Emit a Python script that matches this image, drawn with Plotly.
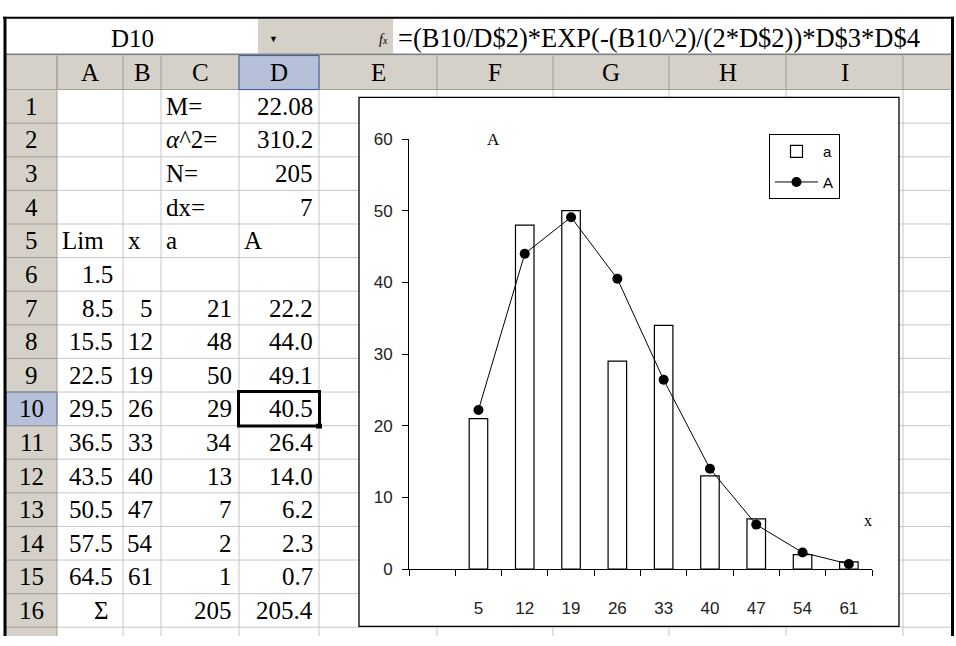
import plotly.graph_objects as go

W, H = 956, 646

# ---------------- data ----------------
lim = [1.5, 8.5, 15.5, 22.5, 29.5, 36.5, 43.5, 50.5, 57.5, 64.5]
x_vals = [5, 12, 19, 26, 33, 40, 47, 54, 61]
a_vals = [21, 48, 50, 29, 34, 13, 7, 2, 1]
A_vals = [22.2, 44.0, 49.1, 40.5, 26.4, 14.0, 6.2, 2.3, 0.7]
param_names = ["M=", "α^2=", "N=", "dx="]
param_values = ["22.08", "310.2", "205", "7"]
table_headers = ["Lim", "x", "a", "A"]
sum_label = "Σ"
sum_a = "205"
sum_A = "205.4"
dx = 7
column_letters = ["A", "B", "C", "D", "E", "F", "G", "H", "I"]
y_ticks = [0, 10, 20, 30, 40, 50, 60]
formula_text = "=(B10/D$2)*EXP(-(B10^2)/(2*D$2))*D$3*D$4"
cell_name = "D10"
series_names = ["a", "A"]
chart_title = "A"
x_axis_label = "x"

# ---------------- layout helpers ----------------
def X(p):
    return p / W


def Y(p):
    return 1 - p / H


COL = [6, 57, 123, 161, 239, 319, 437, 553, 669, 786, 903, 951]
ROW0 = 83
RH = 34.625


def row_top(r):
    return ROW0 + (r - 1) * RH


def row_mid(r):
    return row_top(r) + RH / 2


shapes = []


def rect(x0, y0, x1, y1, fill=None, line=None, lw=1, layer="below"):
    shapes.append(dict(type="rect", xref="paper", yref="paper",
                       x0=X(x0), x1=X(x1), y0=Y(y1), y1=Y(y0),
                       fillcolor=fill if fill else "rgba(0,0,0,0)",
                       line=dict(color=line if line else "rgba(0,0,0,0)",
                                 width=lw if line else 0),
                       layer=layer))


def seg(x0, y0, x1, y1, color, lw=1, layer="below"):
    shapes.append(dict(type="line", xref="paper", yref="paper",
                       x0=X(x0), x1=X(x1), y0=Y(y0), y1=Y(y1),
                       line=dict(color=color, width=lw), layer=layer))


HDR = "#d5d1c9"
SEL = "#b6c0d8"
GRID = "#c6c6c6"
HSEP = "#a39f97"

# formula bar
rect(6, 10, 258, 46, "white")
rect(258, 10, 393, 46, HDR)
rect(393, 10, 951, 46, "white")
seg(6, 47, 951, 47, "#808080", 2)
# headers
rect(6, 48, 951, 83, HDR)
rect(6, 83, 57, 646, HDR)
rect(6, row_top(10), 57, row_top(11), SEL, "#3b5a98", 1)
# cell grid
for xe in COL[2:-1]:
    seg(xe, 83, xe, 646, GRID)
for r in range(2, 18):
    seg(57, row_top(r), 951, row_top(r), GRID)
    seg(6, row_top(r), 57, row_top(r), HSEP)
for xe in COL[1:-1]:
    seg(xe, 48, xe, 83, HSEP)
seg(6, 83, 951, 83, HSEP)
seg(57, 48, 57, 646, HSEP)
rect(239, 48, 319, 83, SEL, "#3b5a98", 1)
# chart area
rect(359, 91, 899, 636, "white", "#000000", 1.3)
# active cell
rect(238.5, row_top(10) - 0.5, 319.5, row_top(11) + 0.5, None, "#000000", 3)
rect(316, row_top(11) - 2, 322, row_top(11) + 3, "#000000")
# outer frame
seg(5, 8, 5, 646, "#000000", 3)
seg(3, 9, 954, 9, "#000000", 2)
seg(952.5, 8, 952.5, 646, "#000000", 3)

annotations = []
SERIF = "Liberation Serif"
SANS = "Liberation Sans"
FS = 25


def txt(t, x, y, anchor="left", size=FS, family=SERIF, color="black"):
    annotations.append(dict(text=t, x=X(x), y=Y(y), xref="paper", yref="paper",
                            xanchor=anchor, yanchor="middle", showarrow=False,
                            font=dict(family=family, size=size, color=color),
                            borderpad=0))


# formula bar texts
txt(cell_name, 132, 30, "center")
txt("▼", 273, 31, "center", size=9, family=SANS)
txt("<i>f</i><span style='font-size:10px'><i>x</i></span>", 383, 31, "center", size=14)
txt(formula_text, 397, 30, "left", size=26.5)
# column letters
for i, letter in enumerate(column_letters):
    txt(letter, (COL[i + 1] + COL[i + 2]) / 2, 65, "center")
# row numbers
for r in range(1, 17):
    txt(str(r), 31.5, row_mid(r), "center")

PAD_R = {1: 9, 2: 7, 3: 6, 4: 5}


def cell_right(col, r, t):
    txt(t, COL[col + 1] - PAD_R[col], row_mid(r), "right")


def cell_left(col, r, t):
    txt(t, COL[col] + 4, row_mid(r), "left")


for i, (nm, vl) in enumerate(zip(param_names, param_values)):
    if nm.startswith("α"):
        cell_left(3, i + 1, "<i>α</i>" + nm[1:])
    else:
        cell_left(3, i + 1, nm)
    cell_right(4, i + 1, vl)
for j, hd in enumerate(table_headers):
    cell_left(j + 1, 5, hd)
cell_right(1, 6, f"{lim[0]:.1f}")
for k in range(len(x_vals)):
    r = 7 + k
    cell_right(1, r, f"{lim[k + 1]:.1f}")
    cell_right(2, r, str(x_vals[k]))
    cell_right(3, r, str(a_vals[k]))
    cell_right(4, r, f"{A_vals[k]:.1f}")
txt(sum_label, 101, row_mid(16), "center")
cell_right(3, 16, sum_a)
cell_right(4, 16, sum_A)

# chart texts
txt(chart_title, 493, 134, "center", size=17)
txt(x_axis_label, 868, 527, "center", size=16)

# ---------------- chart traces ----------------
fig = go.Figure()
fig.add_trace(go.Bar(
    x=x_vals, y=a_vals, name=series_names[0], width=dx * 0.4,
    marker=dict(color="white", line=dict(color="black", width=1.2)),
    legendgroup="a"))
fig.add_trace(go.Scatter(
    x=x_vals, y=A_vals, name=series_names[1], mode="lines+markers",
    line=dict(color="black", width=1),
    marker=dict(color="black", size=10, symbol="circle"),
    legendgroup="A"))

boundaries = [lim[0] - dx] + lim

fig.update_layout(
    width=W, height=H,
    margin=dict(l=0, r=0, t=0, b=0),
    paper_bgcolor="white", plot_bgcolor="white",
    shapes=shapes, annotations=annotations,
    showlegend=True,
    legend=dict(x=X(769), y=Y(129), xanchor="left", yanchor="top",
                bordercolor="black", borderwidth=1, bgcolor="white",
                font=dict(family=SANS, size=15, color="black"),
                tracegroupgap=8, itemwidth=43),
    xaxis=dict(domain=[X(409), X(872)], range=[lim[0] - dx, lim[-1]],
               tickmode="array", tickvals=x_vals, ticktext=[str(v) for v in x_vals],
               ticks="", showline=True, linecolor="black", linewidth=1,
               showgrid=False, zeroline=False, ticklabelstandoff=24,
               tickfont=dict(family=SANS, size=17, color="#222222"),
               minor=dict(tickmode="array", tickvals=boundaries, ticks="outside",
                          ticklen=6, tickwidth=1, tickcolor="black", showgrid=False),
               fixedrange=True),
    yaxis=dict(domain=[Y(577), Y(134)], range=[0, 60], tickmode="array",
               tickvals=y_ticks, ticks="outside", ticklen=6, tickwidth=1,
               tickcolor="black", showline=True, linecolor="black", linewidth=1,
               showgrid=False, zeroline=False, ticklabelstandoff=6,
               tickfont=dict(family=SANS, size=17, color="#222222"),
               fixedrange=True),
    bargap=0.6,
)

fig.write_html("out.html", config={"displayModeBar": False})
